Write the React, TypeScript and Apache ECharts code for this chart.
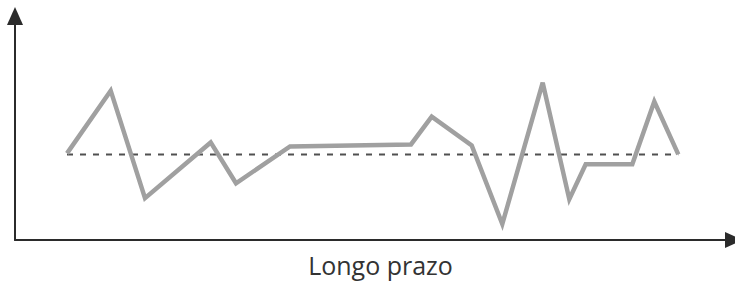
import React, { useEffect, useRef } from "react";
import * as echarts from "echarts";

const xValues = [52, 95.7, 130, 195.7, 221, 275, 396, 416.7, 456.7, 487.3, 527.7, 554.3, 570.7, 617.3, 639.3, 663.3];
const yValues = [87, 150, 42, 98, 57, 94, 96, 124, 95, 16, 158, 41, 76, 76, 139, 86];
const baselineValue = 86;
const baselineRange = [52, 663.3];
const axisName = "Longo prazo";

export default function App() {
  const ref = useRef<HTMLDivElement>(null);
  useEffect(() => {
    if (!ref.current) return;
    const chart = echarts.init(ref.current, null, { renderer: "svg" });
    const lineData = xValues.map((x, i) => [x, yValues[i]]);
    const baseData = baselineRange.map((x) => [x, baselineValue]);
    chart.setOption({
      animation: false,
      grid: { left: 15, right: 1, top: 16, bottom: 41, containLabel: false },
      xAxis: {
        type: "value",
        min: 0,
        max: 719,
        splitLine: { show: false },
        axisTick: { show: false },
        axisLabel: { show: false },
        axisLine: {
          show: true,
          onZero: false,
          symbol: ["none", "triangle"],
          symbolSize: [16, 18],
          lineStyle: { color: "#2b2b2b", width: 2 },
        },
        name: axisName,
        nameLocation: "middle",
        nameGap: 12,
        nameTextStyle: {
          fontFamily: "Open Sans",
          fontSize: 25,
          color: "#333",
          padding: [0, 0, 0, 12],
          verticalAlign: "top",
        },
      },
      yAxis: {
        type: "value",
        min: 0,
        max: 225,
        splitLine: { show: false },
        axisTick: { show: false },
        axisLabel: { show: false },
        axisLine: {
          show: true,
          onZero: false,
          symbol: ["none", "triangle"],
          symbolSize: [16, 18],
          lineStyle: { color: "#2b2b2b", width: 2 },
        },
      },
      series: [
        {
          type: "line",
          data: baseData,
          symbol: "none",
          lineStyle: { color: "#505050", width: 2, type: [6, 7] },
          z: 1,
        },
        {
          type: "line",
          data: lineData,
          symbol: "none",
          lineStyle: { color: "#a0a0a0", width: 4.5, join: "miter" },
          z: 2,
        },
      ],
    });
    return () => chart.dispose();
  }, []);
  return (
    <div
      ref={ref}
      style={{ position: "fixed", left: 0, top: 0, width: 735, height: 282, background: "#fff" }}
    />
  );
}
